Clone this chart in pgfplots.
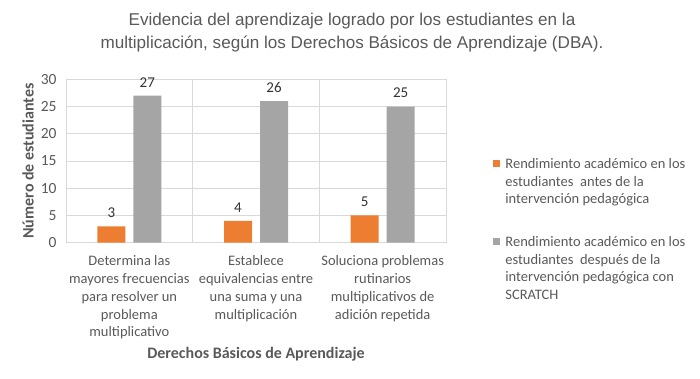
\documentclass[border=0pt]{standalone}
\usepackage{pgfplots}
\pgfplotsset{compat=1.18}
\usepackage{fontspec}
\setmainfont{Carlito}
\newfontfamily\titlefont{Liberation Sans}
\definecolor{cOrange}{HTML}{ED7D31}
\definecolor{cGray}{HTML}{A5A5A5}
\definecolor{cGrid}{HTML}{D9D9D9}
\definecolor{cText}{HTML}{595959}
\hyphenpenalty=10000
\exhyphenpenalty=10000
\begin{document}
\begin{tikzpicture}
\path[use as bounding box] (0,0) rectangle (700pt,379pt);
\node[font={\titlefont\fontsize{17.1}{23}\selectfont}, text=cText, align=center] at (352pt,346pt)
  {Evidencia del aprendizaje logrado por los estudiantes en la\\multiplicación, según los Derechos Básicos de Aprendizaje (DBA).};
\begin{axis}[
  at={(66pt,136.3pt)}, anchor=south west,
  scale only axis, width=380pt, height=163.4pt,
  ybar=8pt, bar width=28pt,
  xmin=-0.5, xmax=2.5, ymin=0, ymax=30,
  xtick={0,1,2},
  xticklabels={{Determina las\\mayores frecuencias\\para resolver un\\problema\\multiplicativo},
               {Establece\\equivalencias entre\\una suma y una\\multiplicación},
               {Soluciona problemas\\rutinarios\\multiplicativos de\\adición repetida}},
  ytick={0,5,10,15,20,25,30},
  major tick length=0pt,
  extra x ticks={0.5,1.5}, extra x tick labels={},
  extra x tick style={grid=major},
  ymajorgrids, grid style={cGrid, line width=0.8pt},
  axis line style={cGrid, line width=0.8pt},
  /pgf/number format/assume math mode=true,
  tick label style={font=\fontsize{14.5}{17.7}\selectfont, text=cText},
  xticklabel style={align=center, anchor=north, yshift=-11pt, inner sep=2pt},
  yticklabel style={xshift=-6pt, font=\fontsize{15.5}{17.7}\selectfont},
  xlabel={Derechos Básicos de Aprendizaje},
  ylabel={Número de estudiantes},
  every axis x label/.style={at={(axis description cs:0.5,0)}, yshift=-112pt, anchor=center,
     font=\bfseries\fontsize{16}{17.7}\selectfont, text=cText},
  every axis y label/.style={at={(axis description cs:0,0.5)}, xshift=-38pt, anchor=center, rotate=90,
     font=\bfseries\fontsize{16}{17.7}\selectfont, text=cText},
  nodes near coords,
  every node near coord/.append style={font=\fontsize{15}{17.7}\selectfont, text=black!80, yshift=5pt},
  legend style={at={(1.115,0.53)}, anchor=north west, draw=none, fill=none,
     font=\fontsize{14.5}{17.7}\selectfont, text=cText,
     cells={anchor=west}, row sep=31pt, column sep=5pt,
     nodes={align=left, inner sep=0pt}},
]
\addplot[fill=cOrange, draw=none,
  legend image code/.code={\path (0pt,-22pt) (0pt,22pt); \fill[cOrange] (0pt,14.5pt) rectangle (7.5pt,22pt);}]
  coordinates {(0,3) (1,4) (2,5)};
\addplot[fill=cGray, draw=none,
  legend image code/.code={\path (0pt,-31pt) (0pt,31pt); \fill[cGray] (0pt,23.5pt) rectangle (7.5pt,31pt);}]
  coordinates {(0,27) (1,26) (2,25)};
\legend{{Rendimiento académico en los\\estudiantes\ \ antes de la\\intervención pedagógica},
        {Rendimiento académico en los\\estudiantes\ \ después de la\\intervención pedagógica con\\SCRATCH}}
\end{axis}
\end{tikzpicture}
\end{document}
